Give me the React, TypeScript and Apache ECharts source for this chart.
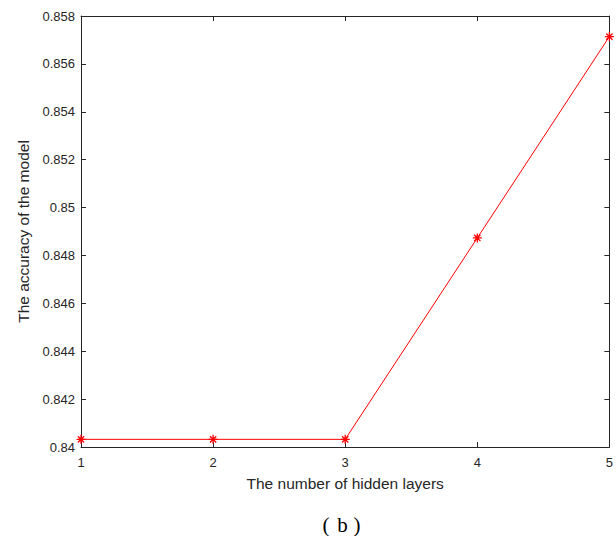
import React, { useEffect, useRef } from "react";
import * as echarts from "echarts";

const hiddenLayers = [1, 2, 3, 4, 5];
const accuracy = [0.84032, 0.84032, 0.84032, 0.84873, 0.85714];
const xTicks = [1, 2, 3, 4, 5];

const asterisk =
  "path://M5,0L5,10M0,5L10,5M1.5,1.5L8.5,8.5M1.5,8.5L8.5,1.5";

export default function App() {
  const ref = useRef<HTMLDivElement>(null);
  useEffect(() => {
    if (!ref.current) return;
    const chart = echarts.init(ref.current, null, { renderer: "svg" });
    const axisColor = "#262626";
    const fmtY = (v: number) => parseFloat(v.toFixed(3)).toString();
    const common = {
      axisLine: { show: true, onZero: false, lineStyle: { color: axisColor, width: 1 } },
      axisTick: { show: true, inside: true, length: 5, lineStyle: { color: axisColor } },
      splitLine: { show: false },
    };
    const capStyle = {
      fontFamily: "Liberation Serif",
      fontSize: 21,
      fill: "#000000",
      align: "center",
      verticalAlign: "middle",
    };
    chart.setOption({
      animation: false,
      backgroundColor: "#ffffff",
      grid: { left: 81, top: 16, width: 533, height: 431, containLabel: false },
      xAxis: [
        {
          type: "value",
          position: "bottom",
          min: 1,
          max: 5,
          interval: 1,
          name: "The number of hidden layers",
          nameLocation: "middle",
          nameGap: 28,
          nameTextStyle: { fontFamily: "Liberation Sans", fontSize: 15.5, color: axisColor },
          axisLabel: {
            fontFamily: "Liberation Sans",
            fontSize: 13,
            color: axisColor,
            margin: 9,
            formatter: (v: number) => (xTicks.includes(v) ? String(v) : ""),
          },
          ...common,
        },
        {
          type: "value",
          position: "top",
          min: 1,
          max: 5,
          interval: 1,
          axisLabel: { show: false },
          ...common,
        },
      ],
      yAxis: [
        {
          type: "value",
          position: "left",
          min: 0.84,
          max: 0.858,
          interval: 0.002,
          name: "The accuracy of the model",
          nameLocation: "middle",
          nameGap: 46,
          nameTextStyle: { fontFamily: "Liberation Sans", fontSize: 15.5, color: axisColor },
          axisLabel: {
            fontFamily: "Liberation Sans",
            fontSize: 13,
            color: axisColor,
            margin: 6,
            formatter: fmtY,
          },
          ...common,
        },
        {
          type: "value",
          position: "right",
          min: 0.84,
          max: 0.858,
          interval: 0.002,
          axisLabel: { show: false },
          ...common,
        },
      ],
      series: [
        {
          type: "line",
          data: hiddenLayers.map((x, i) => [x, accuracy[i]]),
          lineStyle: { color: "#ff0000", width: 1 },
          symbol: asterisk,
          symbolSize: 9,
          showSymbol: true,
          itemStyle: { color: "none", borderColor: "#ff0000", borderWidth: 1.3 },
          clip: false,
        },
      ],
      graphic: [
        { type: "text", x: 326, y: 525, style: { ...capStyle, text: "(" } },
        { type: "text", x: 342.5, y: 525, style: { ...capStyle, text: "b" } },
        { type: "text", x: 357, y: 525, style: { ...capStyle, text: ")" } },
      ],
    });
    return () => chart.dispose();
  }, []);
  return <div ref={ref} style={{ width: 616, height: 536, position: "absolute", left: 0, top: 0 }} />;
}
